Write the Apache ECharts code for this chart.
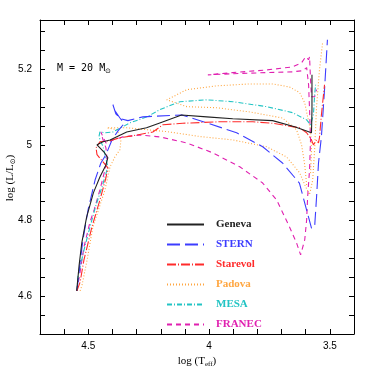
<!DOCTYPE html>
<html><head><meta charset="utf-8">
<script src="https://cdn.jsdelivr.net/npm/echarts@6/dist/echarts.min.js"></script>
<style>html,body{margin:0;padding:0;background:#fff}#c{width:374px;height:374px}</style>
</head><body><div id="c"></div>
<script>
// [log Teff, log L/Lsun]
const geneva = [[4.548,4.614],[4.538,4.682],[4.527,4.741],[4.507,4.809],[4.479,4.873],[4.452,4.915],[4.427,4.947],[4.419,4.966],[4.435,4.981],[4.464,5.000],[4.439,5.008],[4.410,5.013],[4.341,5.034],[4.259,5.045],[4.204,5.058],[4.114,5.079],[4.010,5.074],[3.902,5.069],[3.737,5.064],[3.646,5.048],[3.576,5.032],[3.574,5.093],[3.574,5.185]];
const stern = [[4.547,4.614],[4.534,4.690],[4.522,4.749],[4.501,4.828],[4.472,4.907],[4.448,4.952],[4.427,4.974],[4.402,5.013],[4.377,5.037],[4.352,5.056],[4.369,5.071],[4.393,5.093],[4.398,5.106],[4.386,5.082],[4.365,5.069],[4.336,5.064],[4.274,5.074],[4.113,5.079],[4.009,5.058],[3.886,5.032],[3.778,4.995],[3.696,4.952],[3.626,4.899],[3.593,4.820],[3.576,4.780],[3.563,4.783],[3.555,4.862],[3.547,4.952],[3.535,5.021],[3.522,5.146],[3.510,5.278]];
const starevol = [[4.547,4.614],[4.534,4.637],[4.518,4.696],[4.485,4.783],[4.452,4.854],[4.427,4.913],[4.419,4.939],[4.439,4.955],[4.464,4.974],[4.468,4.992],[4.452,5.008],[4.410,5.011],[4.369,5.019],[4.315,5.024],[4.233,5.034],[4.191,5.053],[4.109,5.057],[3.956,5.061],[3.819,5.061],[3.737,5.057],[3.625,5.045],[3.596,5.032],[3.576,5.013],[3.568,5.000],[3.555,5.013],[3.547,5.005],[3.543,5.019],[3.535,5.079],[3.522,5.159]];
const padova = [[4.534,4.614],[4.526,4.629],[4.505,4.696],[4.481,4.783],[4.431,4.881],[4.410,4.942],[4.390,4.968],[4.369,4.987],[4.365,5.013],[4.381,5.040],[4.423,5.045],[4.340,5.045],[4.175,5.035],[4.038,5.022],[3.902,5.013],[3.762,4.995],[3.679,4.968],[3.625,4.926],[3.600,4.889],[3.584,4.868],[3.571,4.907],[3.563,4.987],[3.555,5.101],[3.543,5.198],[3.530,5.270]];
const padovaLoop = [[3.596,4.894],[3.604,4.947],[3.617,5.000],[3.638,5.040],[3.696,5.071],[3.832,5.087],[3.968,5.098],[4.092,5.101],[4.175,5.119],[4.092,5.146],[3.968,5.156],[3.832,5.161],[3.737,5.161],[3.667,5.153],[3.625,5.138],[3.604,5.111],[3.592,5.074],[3.580,5.040],[3.576,4.987],[3.580,4.921]];
const mesa = [[4.547,4.614],[4.543,4.651],[4.518,4.722],[4.493,4.783],[4.468,4.841],[4.443,4.889],[4.419,4.942],[4.431,4.974],[4.439,4.995],[4.456,5.021],[4.452,5.034],[4.431,5.032],[4.398,5.034],[4.328,5.058],[4.257,5.074],[4.204,5.093],[4.121,5.114],[4.010,5.119],[3.902,5.114],[3.762,5.101],[3.654,5.085],[3.596,5.066],[3.580,5.053],[3.568,5.079],[3.563,5.132],[3.559,5.159]];
const franec = [[4.547,4.614],[4.534,4.664],[4.518,4.730],[4.493,4.796],[4.476,4.828],[4.452,4.881],[4.431,4.934],[4.423,4.966],[4.427,4.992],[4.439,5.013],[4.448,5.034],[4.439,5.021],[4.427,5.005],[4.398,5.013],[4.357,5.021],[4.286,5.026],[4.204,5.021],[4.092,5.005],[3.985,4.979],[3.873,4.942],[3.778,4.899],[3.720,4.854],[3.667,4.783],[3.638,4.741],[3.621,4.709],[3.604,4.749],[3.596,4.802],[3.592,4.862],[3.584,4.934],[3.580,5.013],[3.584,5.093],[3.588,5.159],[3.596,5.204],[3.613,5.196],[3.654,5.193],[3.762,5.191],[3.902,5.188],[4.005,5.185],[3.902,5.191],[3.762,5.198],[3.654,5.206],[3.617,5.217],[3.600,5.233],[3.588,5.225],[3.584,5.233],[3.580,5.172],[3.576,5.127],[3.563,5.127],[3.555,5.146]];

const seriesNames = ['Geneva','STERN','Starevol','Padova','MESA','FRANEC'];
const xTickLabels = [4.5, 4, 3.5];
const yTickLabels = [4.6, 4.8, 5, 5.2];

const colors = {Geneva:'#222222', STERN:'#3c3cff', Starevol:'#ff2b2b', Padova:'#ffa640', MESA:'#22c4c4', FRANEC:'#e020b0'};
const dashes = {Geneva:'solid', STERN:[13,5], Starevol:[9,2,1,2], Padova:[1,2], MESA:[5,2,1,2], FRANEC:[5,4]};

function mk(name, data, z) {
  return {name, type:'line', data, symbol:'none', showSymbol:false, z: z,
    lineStyle:{color:colors[name], width:1.1, type:dashes[name]},
    itemStyle:{color:colors[name]}, silent:true};
}
function lab(list){
  return v => { const hit = list.find(t => Math.abs(t - v) < 1e-6); return hit === undefined ? '' : String(hit); };
}
const tickFont = {color:'#000', fontSize:10, fontFamily:'Liberation Sans'};
const axBase = {type:'value', axisLine:{show:true,onZero:false,lineStyle:{color:'#000',width:1}},
  axisTick:{show:true,inside:true,length:5,lineStyle:{color:'#000',width:1}}, splitLine:{show:false}};

const chart = echarts.init(document.getElementById('c'));
chart.setOption({
  animation:false,
  backgroundColor:'#fff',
  grid:{left:40,right:20,top:20,bottom:40,containLabel:false,outerBoundsMode:'none'},
  xAxis:[
    Object.assign({}, axBase, {position:'bottom', inverse:true, min:3.4, max:4.7, interval:0.1,
      axisLabel:Object.assign({formatter:lab(xTickLabels), margin:7}, tickFont),
      name:'log (T{s|eff})', nameLocation:'middle', nameGap:16,
      nameTextStyle:{color:'#000', fontSize:11, fontFamily:'Liberation Serif', rich:{s:{fontSize:7, fontFamily:'Liberation Serif', color:'#000', padding:[6,0,0,0]}}}}),
    Object.assign({}, axBase, {position:'top', inverse:true, min:3.4, max:4.7, interval:0.1, axisLabel:{show:false}})
  ],
  yAxis:[
    Object.assign({}, axBase, {position:'left', min:4.5, max:5.33, interval:0.05,
      axisLabel:Object.assign({formatter:lab(yTickLabels), margin:8}, tickFont)}),
    Object.assign({}, axBase, {position:'right', min:4.5, max:5.33, interval:0.05, axisLabel:{show:false}})
  ],
  legend:{
    orient:'vertical', left:161, top:214, itemWidth:37, itemHeight:10, itemGap:9,
    itemStyle:{color:'rgba(0,0,0,0)', borderWidth:0, opacity:0},
    textStyle:{fontSize:11, fontWeight:'bold', fontFamily:'Liberation Serif', padding:[0,0,0,7]},
    data: seriesNames.map(n => ({name:n, textStyle:{color:colors[n]}}))
  },
  graphic:[
    {type:'text', left:57, top:63, style:{text:'M = 20 M{s|⊙}', fill:'#000', font:'10px "DejaVu Sans Mono"',
      rich:{s:{fontSize:7, fill:'#000', padding:[6,0,0,0]}}}},
    {type:'text', x:10, y:178, rotation:Math.PI/2, style:{text:'log (L/L{s|⊙})', fill:'#000', font:'11px "Liberation Serif"',
      align:'center', verticalAlign:'middle', rich:{s:{fontSize:7, fill:'#000', fontFamily:'DejaVu Sans', padding:[6,0,0,0]}}}}
  ],
  series:[
    mk('Padova', padova, 2), mk('Padova', padovaLoop, 2),
    mk('FRANEC', franec, 3), mk('MESA', mesa, 4), mk('STERN', stern, 5),
    mk('Starevol', starevol, 6), mk('Geneva', geneva, 7)
  ]
});
</script></body></html>
